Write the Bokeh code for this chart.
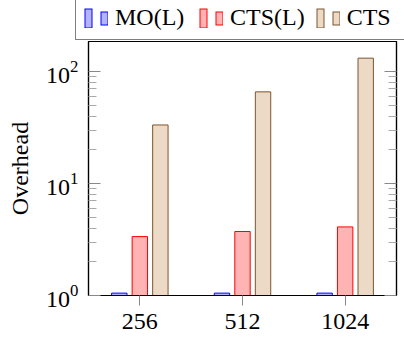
from bokeh.plotting import figure
from bokeh.layouts import column
from bokeh.models import (ColumnDataSource, FactorRange, Range1d, LogAxis,
                          FixedTicker, Legend, LegendItem)
from bokeh.transform import dodge
from bokeh.embed import file_html
from bokeh.resources import INLINE

# ---- data ----
categories = ["256", "512", "1024"]
mo_l = [1.05, 1.05, 1.05]
cts_l = [3.36, 3.73, 4.10]
cts = [33.4, 66.0, 132.0]
series_names = ["MO(L)", "CTS(L)", "CTS"]
y_major = [1, 10, 100]
y_minor = [2, 3, 4, 5, 6, 7, 8, 9, 20, 30, 40, 50, 60, 70, 80, 90, 200]

FONT = "Liberation Serif"
FS = "24px"

line_colors = ["#0000ff", "#ff0000", "#7d5530"]
fill_colors = ["#b3b3ff", "#ffb3b3", "#ecd9c6"]
offsets = [-0.2, 0.0, 0.2]
keys = ["mo_l", "cts_l", "cts"]

src = ColumnDataSource(dict(cat=categories, mo_l=mo_l, cts_l=cts_l, cts=cts))

# ---------------- main plot ----------------
p = figure(width=404, height=300,
           x_range=FactorRange(factors=categories, range_padding=0),
           y_range=Range1d(1, 186), y_axis_type="log",
           output_backend="svg", toolbar_location=None,
           min_border_left=88, min_border_right=8,
           min_border_top=0, min_border_bottom=46)

p.background_fill_color = "white"
p.border_fill_color = "white"
p.outline_line_color = "black"
p.outline_line_width = 1.2
p.xgrid.visible = False
p.ygrid.visible = False

for k, off, lc, fc in zip(keys, offsets, line_colors, fill_colors):
    p.vbar(x=dodge("cat", off, range=p.x_range), top=k, bottom=1, width=0.15,
           source=src, fill_color=fc, line_color=lc, line_width=1)

xa = p.xaxis[0]
xa.major_tick_in = 0
xa.major_tick_out = 10
xa.major_tick_line_color = "#888888"
xa.axis_line_color = "black"
xa.axis_line_width = 1.2
xa.major_label_text_font = FONT
xa.major_label_text_font_size = FS
xa.major_label_text_color = "black"
xa.major_label_standoff = 8
xa.minor_tick_line_color = None

ticker = FixedTicker(ticks=y_major, minor_ticks=y_minor)
ya = p.yaxis[0]
ya.ticker = ticker
ya.major_tick_in = 12
ya.major_tick_out = 0
ya.minor_tick_in = 8
ya.minor_tick_out = 0
ya.major_tick_line_color = "#888888"
ya.minor_tick_line_color = "#aaaaaa"
ya.axis_line_color = "black"
ya.axis_line_width = 1.2
ya.major_label_text_font = FONT
ya.major_label_text_font_size = FS
ya.major_label_text_color = "black"
ya.major_label_standoff = 10
ya.axis_label = "Overhead"
ya.axis_label_text_font = FONT
ya.axis_label_text_font_size = FS
ya.axis_label_text_font_style = "normal"
ya.axis_label_text_color = "black"
ya.axis_label_standoff = 10

ra = LogAxis(ticker=ticker)
ra.major_tick_in = 12
ra.major_tick_out = 0
ra.minor_tick_in = 8
ra.minor_tick_out = 0
ra.major_tick_line_color = "#888888"
ra.minor_tick_line_color = "#aaaaaa"
ra.axis_line_color = "black"
ra.axis_line_width = 1.2
ra.major_label_overrides = {v: "" for v in y_major}
ra.major_label_text_font_size = "2px"
ra.major_label_text_color = None
ra.major_label_standoff = 0
p.add_layout(ra, "right")

# ---------------- legend strip ----------------
lg = figure(width=404, height=41, x_range=Range1d(0, 1), y_range=Range1d(0, 1),
            output_backend="svg", toolbar_location=None,
            min_border_left=0, min_border_right=0, min_border_top=0, min_border_bottom=0)
lg.xaxis.visible = False
lg.yaxis.visible = False
lg.xgrid.visible = False
lg.ygrid.visible = False
lg.outline_line_color = None
lg.background_fill_color = "white"
lg.border_fill_color = "white"

# keep the legend strip's frame spanning its whole canvas
legend_x = -13
try:
    lg.frame_align = False
    p.frame_align = False
    legend_x = 75
except Exception:
    legend_x = -13

items = []
for name, lc, fc in zip(series_names, line_colors, fill_colors):
    rs = [
        lg.line(x=[5, 6], y=[5, 5], line_color=lc, line_width=20, line_dash="8 100"),
        lg.line(x=[5, 6], y=[5, 5], line_color=fc, line_width=18, line_dash="0 1 6 100"),
        lg.line(x=[5, 6], y=[5, 5], line_color=lc, line_width=14, line_dash="0 16 8 100"),
        lg.line(x=[5, 6], y=[5, 5], line_color=fc, line_width=12, line_dash="0 17 6 100"),
    ]
    items.append(LegendItem(label=name, renderers=rs))

legend = Legend(items=items, orientation="horizontal", location=(legend_x, 1),
                glyph_width=24, glyph_height=20, label_standoff=7, spacing=11,
                padding=8, margin=0, label_width=73,
                label_text_font=FONT, label_text_font_size=FS, label_text_color="black",
                border_line_color="black", border_line_width=1.2,
                background_fill_color="white", background_fill_alpha=1.0)
lg.add_layout(legend)

layout = column(lg, p, spacing=0)
open("out.html", "w").write(file_html(layout, INLINE))
